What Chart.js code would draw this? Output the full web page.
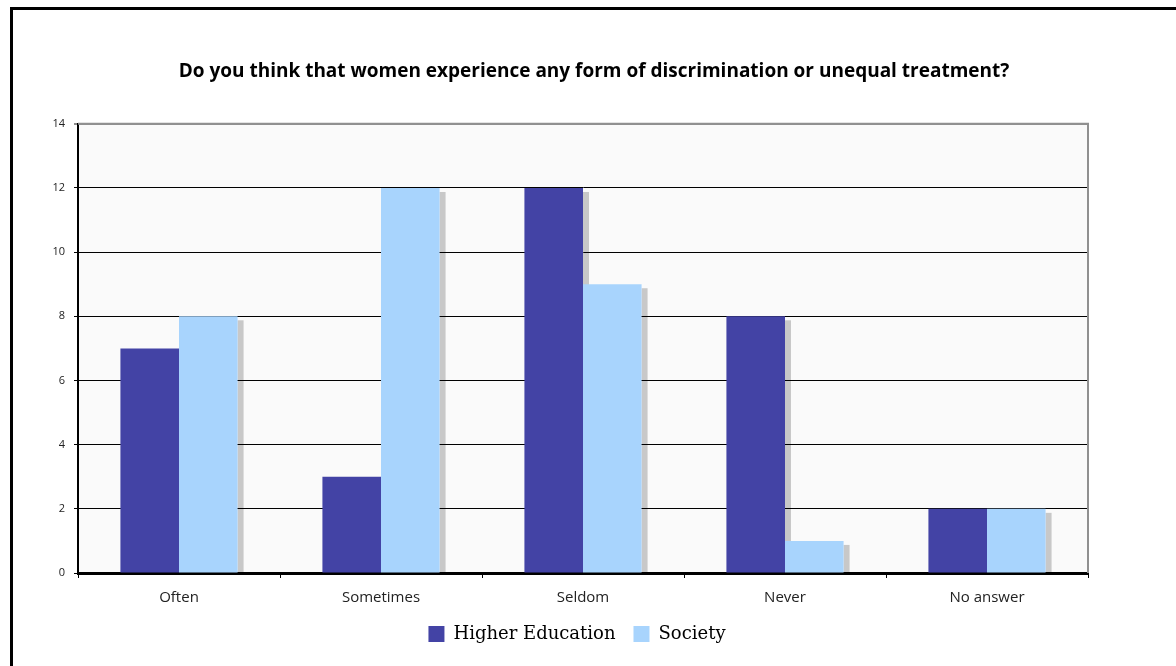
<!DOCTYPE html>
<html>
<head>
<meta charset="utf-8">
<script src="https://cdn.jsdelivr.net/npm/chart.js@4.4.1/dist/chart.umd.min.js"></script>
<style>
    html, body { margin: 0; padding: 0; background: #fff; overflow: hidden; }
    #wrap { position: relative; width: 1176px; height: 666px; }
    #myChart { display: block; }
    #frame { position: absolute; left: 10px; top: 7px; width: 1200px; height: 700px; border: 3px solid #000; pointer-events: none; }
</style>
</head>
<body>
<div id="wrap">
    <canvas id="myChart" width="1176" height="666"></canvas>
    <div id="frame"></div>
</div>
<script>
const categories = ['Often', 'Sometimes', 'Seldom', 'Never', 'No answer'];
const higherEducation = [7, 3, 12, 8, 2];
const society = [8, 12, 9, 1, 2];
const yTicks = [0, 2, 4, 6, 8, 10, 12, 14];

// plot background + right edge line, and re-centre title / legend
const plotFrame = {
    id: 'plotFrame',
    afterLayout(chart) {
        if (chart.titleBlock) { chart.titleBlock.left = 12; chart.titleBlock.right = 1176; }
        if (chart.legend) { chart.legend.left = 0; chart.legend.right = 1154; }
    },
    beforeDraw(chart) {
        const { ctx, chartArea: a } = chart;
        ctx.save();
        ctx.fillStyle = '#fafafa';
        ctx.fillRect(a.left, a.top, a.right - a.left, a.bottom - a.top);
        ctx.restore();
    },
    afterDraw(chart) {
        const { ctx, chartArea: a } = chart;
        ctx.save();
        ctx.strokeStyle = '#909090';
        ctx.lineWidth = 2;
        ctx.beginPath();
        ctx.moveTo(a.left, a.top);
        ctx.lineTo(a.right, a.top);
        ctx.lineTo(a.right, a.bottom);
        ctx.stroke();
        ctx.restore();
    }
};

// little drop shadow on the right side of each bar
const barShadow = {
    id: 'barShadow',
    beforeDatasetsDraw(chart) {
        const ctx = chart.ctx;
        ctx.save();
        ctx.fillStyle = 'rgba(0,0,0,0.2)';
        chart.data.datasets.forEach(function (ds, i) {
            chart.getDatasetMeta(i).data.forEach(function (bar) {
                const p = bar.getProps(['x', 'y', 'base', 'width'], true);
                ctx.fillRect(p.x + p.width / 2, p.y + 4, 6, p.base - p.y - 4);
            });
        });
        ctx.restore();
    }
};

const ctx = document.getElementById('myChart');
new Chart(ctx, {
    type: 'bar',
    data: {
        labels: categories,
        datasets: [{
            label: 'Higher Education',
            data: higherEducation,
            backgroundColor: '#4343a5',
            categoryPercentage: 0.58,
            barPercentage: 1.0
        }, {
            label: 'Society',
            data: society,
            backgroundColor: '#a8d4fd',
            categoryPercentage: 0.58,
            barPercentage: 1.0
        }]
    },
    options: {
        responsive: false,
        animation: false,
        devicePixelRatio: 1,
        layout: { padding: { left: 0, right: 88, top: 0, bottom: 13 } },
        plugins: {
            title: {
                display: true,
                text: 'Do you think that women experience any form of discrimination or unequal treatment?',
                color: '#000',
                font: { family: 'Open Sans', size: 19, weight: 'bold' },
                padding: { top: 60, bottom: 41 }
            },
            legend: {
                position: 'bottom',
                labels: {
                    color: '#000',
                    boxWidth: 16, boxHeight: 16,
                    padding: 18,
                    font: { family: 'DejaVu Serif', size: 18 }
                }
            },
            tooltip: { enabled: false }
        },
        scales: {
            x: {
                afterFit(scale) { scale.height = 34; },
                grid: { display: true, drawOnChartArea: false, drawTicks: true, tickLength: 5, color: '#000' },
                border: { display: true, color: '#000', width: 3 },
                ticks: { color: '#222', padding: 11, maxRotation: 0, font: { family: 'Open Sans', size: 15 } }
            },
            y: {
                min: 0, max: 14,
                afterFit(scale) { scale.width = 78; },
                afterBuildTicks(scale) { scale.ticks = yTicks.map(v => ({ value: v })); },
                grid: {
                    color: c => c.tick && c.tick.value === 14 ? '#909090' : '#000',
                    lineWidth: c => c.tick && c.tick.value === 14 ? 2 : 1,
                    tickLength: 4
                },
                border: { display: true, color: '#000', width: 2 },
                ticks: { color: '#222', padding: 9, font: { family: 'Open Sans', size: 11 } }
            }
        }
    },
    plugins: [plotFrame, barShadow]
});
</script>
</body>
</html>
